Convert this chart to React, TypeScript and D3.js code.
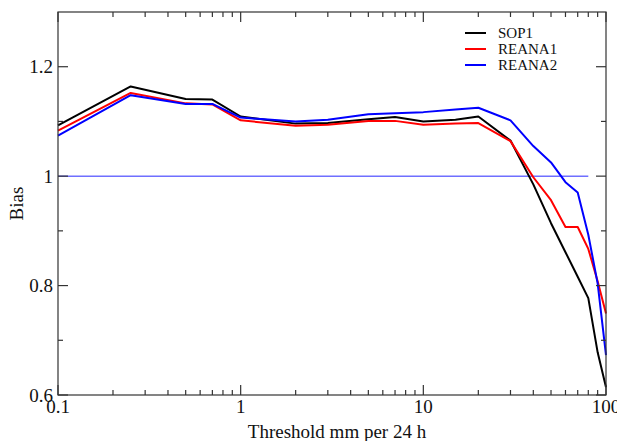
import React from "react";
import * as d3 from "d3";

const thresholds = [0.1, 0.25, 0.5, 0.7, 1, 2, 3, 5, 7, 10, 15, 20, 30, 40, 50, 60, 70, 80, 90, 100];
const sop1 = [1.093, 1.164, 1.141, 1.140, 1.109, 1.096, 1.097, 1.104, 1.108, 1.100, 1.103, 1.109, 1.065, 0.985, 0.914, 0.861, 0.816, 0.777, 0.678, 0.614];
const reana1 = [1.083, 1.152, 1.133, 1.131, 1.102, 1.092, 1.094, 1.101, 1.101, 1.094, 1.096, 1.097, 1.064, 0.998, 0.956, 0.907, 0.907, 0.867, 0.808, 0.749];
const reana2 = [1.074, 1.148, 1.132, 1.132, 1.107, 1.100, 1.103, 1.113, 1.115, 1.117, 1.122, 1.125, 1.102, 1.055, 1.025, 0.989, 0.970, 0.893, 0.804, 0.673];
const refX = [0.1, 80];
const refY = [1, 1];

const seriesNames = ["SOP1", "REANA1", "REANA2"];
const seriesColors = ["#000000", "#ff0000", "#0000ff"];
const seriesValues = [sop1, reana1, reana2];

const xMajor = [0.1, 1, 10, 100];
const xMajorLabels = ["0.1", "1", "10", "100"];
const yMajor = [0.6, 0.8, 1.0, 1.2];
const yMajorLabels = ["0.6", "0.8", "1", "1.2"];
const yMinor = [0.7, 0.9, 1.1];

const W = 617, H = 441;
const L = 58, R = 606, T = 12, B = 395;
const FONT = "'Liberation Serif', 'Times New Roman', serif";

export default function App() {
  const x = d3.scaleLog().domain([0.1, 100]).range([L, R]);
  const y = d3.scaleLinear().domain([0.6, 1.3]).range([B, T]);

  const xMinor: number[] = [];
  [0.1, 1, 10].forEach((d) => {
    for (let k = 2; k <= 9; k++) xMinor.push(d * k);
  });

  const line = d3
    .line<[number, number]>()
    .x((d) => x(d[0]))
    .y((d) => y(d[1]));

  const tickColor = "#333";

  return (
    <svg
      width={W}
      height={H}
      style={{ position: "absolute", left: 0, top: 0, background: "#fff" }}
      fontFamily={FONT}
    >
      <rect x={0} y={0} width={W} height={H} fill="#fff" />
      {/* reference line */}
      <path
        d={line(refX.map((v, i) => [v, refY[i]]) as [number, number][]) || ""}
        stroke="#6f6fff"
        strokeWidth={1.5}
        fill="none"
      />
      {/* series */}
      {seriesValues.map((vals, si) => (
        <path
          key={si}
          d={line(thresholds.map((t, i) => [t, vals[i]]) as [number, number][]) || ""}
          stroke={seriesColors[si]}
          strokeWidth={2}
          fill="none"
          strokeLinejoin="round"
        />
      ))}
      {/* frame */}
      <rect x={L} y={T} width={R - L} height={B - T} fill="none" stroke={tickColor} strokeWidth={1.2} />
      {/* x ticks */}
      {xMajor.map((v, i) => (
        <g key={"xm" + i}>
          <line x1={x(v)} x2={x(v)} y1={B} y2={B - 10} stroke={tickColor} strokeWidth={1.2} />
          <line x1={x(v)} x2={x(v)} y1={T} y2={T + 10} stroke={tickColor} strokeWidth={1.2} />
          <text x={x(v)} y={413} textAnchor="middle" fontSize={19} fill="#111">
            {xMajorLabels[i]}
          </text>
        </g>
      ))}
      {xMinor.map((v, i) => (
        <g key={"xn" + i}>
          <line x1={x(v)} x2={x(v)} y1={B} y2={B - 5} stroke={tickColor} strokeWidth={1.2} />
          <line x1={x(v)} x2={x(v)} y1={T} y2={T + 5} stroke={tickColor} strokeWidth={1.2} />
        </g>
      ))}
      {/* y ticks */}
      {yMajor.map((v, i) => (
        <g key={"ym" + i}>
          <line x1={L} x2={L + 10} y1={y(v)} y2={y(v)} stroke={tickColor} strokeWidth={1.2} />
          <line x1={R} x2={R - 10} y1={y(v)} y2={y(v)} stroke={tickColor} strokeWidth={1.2} />
          <text x={53} y={y(v)} dy="0.35em" textAnchor="end" fontSize={19} fill="#111">
            {yMajorLabels[i]}
          </text>
        </g>
      ))}
      {yMinor.map((v, i) => (
        <g key={"yn" + i}>
          <line x1={L} x2={L + 5} y1={y(v)} y2={y(v)} stroke={tickColor} strokeWidth={1.2} />
          <line x1={R} x2={R - 5} y1={y(v)} y2={y(v)} stroke={tickColor} strokeWidth={1.2} />
        </g>
      ))}
      {/* axis titles */}
      <text x={337} y={438} textAnchor="middle" fontSize={19} fill="#111">
        Threshold mm per 24 h
      </text>
      <text
        transform={`translate(23, ${(T + B) / 2}) rotate(-90)`}
        textAnchor="middle"
        fontSize={19}
        fill="#111"
      >
        Bias
      </text>
      {/* legend */}
      {seriesNames.map((name, i) => (
        <g key={"lg" + i}>
          <line x1={465} x2={486} y1={33 + i * 16} y2={33 + i * 16} stroke={seriesColors[i]} strokeWidth={2} />
          <text x={498} y={33 + i * 16} dy="0.35em" fontSize={15} fill="#111">
            {name}
          </text>
        </g>
      ))}
    </svg>
  );
}
